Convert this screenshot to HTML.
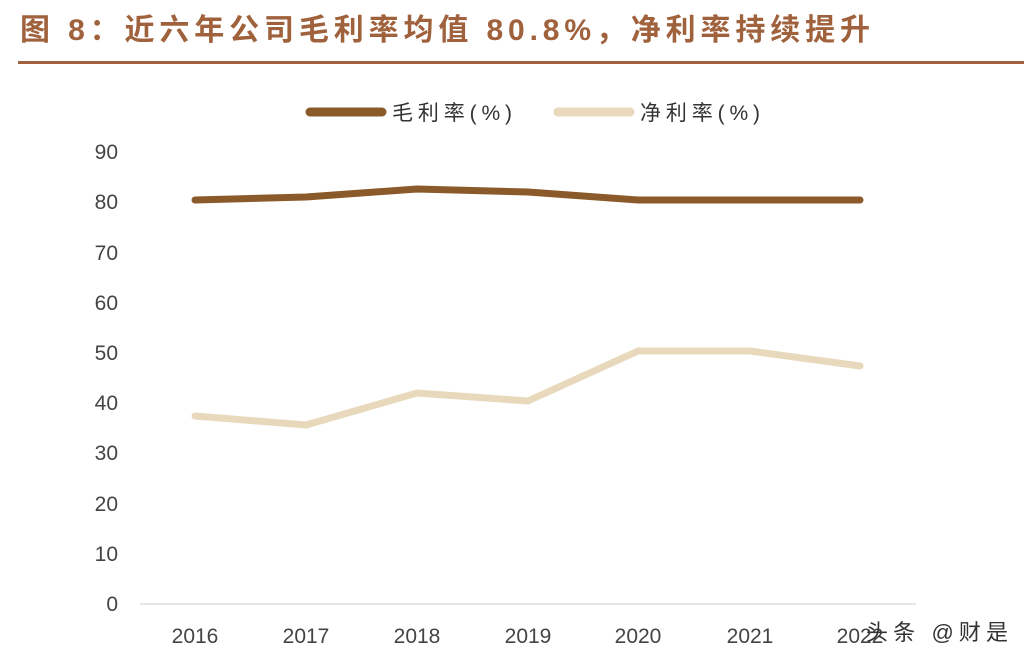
<!DOCTYPE html>
<html><head><meta charset="utf-8"><style>
body{margin:0;width:1024px;height:661px;background:#fff;overflow:hidden;font-family:"Liberation Sans","Noto Sans CJK SC",sans-serif}
</style></head><body>
<svg width="1024" height="661" xmlns="http://www.w3.org/2000/svg">
<text x="20" y="40" font-size="30" font-weight="bold" fill="#A0623C" font-family="Liberation Sans,Noto Sans CJK SC,sans-serif" textLength="850" lengthAdjust="spacing">图 8：近六年公司毛利率均值 80.8%，净利率持续提升</text>
<rect x="18" y="61" width="1006" height="3" fill="#A0623C"/>
<line x1="310" y1="112" x2="382" y2="112" stroke="#8B5A2B" stroke-width="9" stroke-linecap="round"/>
<text x="392" y="120" font-size="21" fill="#333" font-family="Liberation Sans,Noto Sans CJK SC,sans-serif" textLength="120" lengthAdjust="spacing">毛利率(%)</text>
<line x1="558" y1="112" x2="630" y2="112" stroke="#E8D9BC" stroke-width="9" stroke-linecap="round"/>
<text x="640" y="120" font-size="21" fill="#333" font-family="Liberation Sans,Noto Sans CJK SC,sans-serif" textLength="120" lengthAdjust="spacing">净利率(%)</text>
<g font-size="21" fill="#444" text-anchor="end" font-family="Liberation Sans,sans-serif">
<text x="118" y="611">0</text><text x="118" y="561">10</text><text x="118" y="511">20</text><text x="118" y="460">30</text><text x="118" y="410">40</text><text x="118" y="360">50</text><text x="118" y="310">60</text><text x="118" y="260">70</text><text x="118" y="209">80</text><text x="118" y="159">90</text>
</g>
<line x1="140" y1="604" x2="916" y2="604" stroke="#ccc" stroke-width="1"/>
<g font-size="21" fill="#444" text-anchor="middle" font-family="Liberation Sans,sans-serif">
<text x="195" y="643">2016</text><text x="306" y="643">2017</text><text x="417" y="643">2018</text><text x="528" y="643">2019</text><text x="638" y="643">2020</text><text x="750" y="643">2021</text><text x="860" y="643">2022</text>
</g>
<polyline points="195,200 306,197 417,189 528,192 638,200 750,200 860,200" fill="none" stroke="#8B5A2B" stroke-width="7" stroke-linejoin="round" stroke-linecap="round"/>
<polyline points="195,416 306,425 417,393 528,401 638,351 750,351 860,366" fill="none" stroke="#E8D9BC" stroke-width="7" stroke-linejoin="round" stroke-linecap="round"/>
<text x="866" y="640" font-size="22" fill="#333" font-family="Liberation Sans,Noto Sans CJK SC,sans-serif" textLength="142" lengthAdjust="spacing">头条 @财是</text>
</svg>
</body></html>
